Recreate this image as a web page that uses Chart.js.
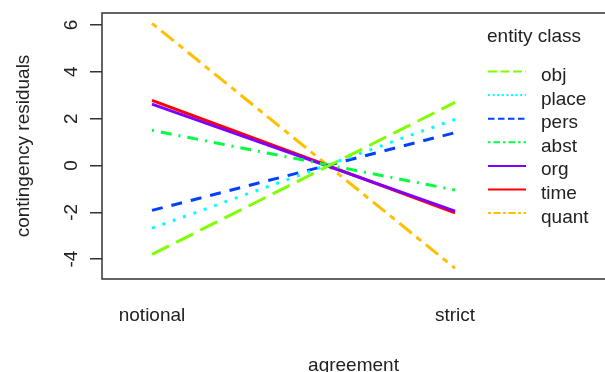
<!DOCTYPE html>
<html>
<head>
<meta charset="utf-8">
<script src="https://cdn.jsdelivr.net/npm/chart.js@4.4.0/dist/chart.umd.min.js"></script>
<style>
  html, body { margin: 0; padding: 0; background: #fff; }
  #wrap { width: 605px; height: 372px; position: relative; }
</style>
</head>
<body>
<div id="wrap"><canvas id="residChart"></canvas></div>
<script>
// values
const categories = ["notional", "strict"];
const classNames = ["obj", "place", "pers", "abst", "org", "time", "quant"];
const objVals = [-3.80, 2.69];
const placeVals = [-2.68, 1.97];
const persVals = [-1.92, 1.40];
const abstVals = [1.50, -1.05];
const orgVals = [2.62, -1.95];
const timeVals = [2.78, -2.02];
const quantVals = [6.07, -4.39];
const yTickValues = [-4, -2, 0, 2, 4, 6];

const seriesVals = [objVals, placeVals, persVals, abstVals, orgVals, timeVals, quantVals];

// rainbow(8)-ish colours and R line types
const lineStyle = {
  obj:   { color: "#80FF00", dash: [19, 8],        legendDash: [9, 3.5] },
  place: { color: "#00FFFF", dash: [3, 8],         legendDash: [2, 2.6] },
  pers:  { color: "#0040FF", dash: [11, 9],        legendDash: [6.5, 3.5] },
  abst:  { color: "#00FF40", dash: [2, 7, 11, 7],  legendDash: [2.5, 3, 6.5, 3] },
  org:   { color: "#8000FF", dash: [],             legendDash: [] },
  time:  { color: "#FF0000", dash: [],             legendDash: [] },
  quant: { color: "#FFBF00", dash: [6, 6, 16, 6],  legendDash: [3, 2.5, 7, 2.5] }
};

const FONT = "'Liberation Sans', Arial, sans-serif";
const TEXT = "#222";

const datasets = classNames.map((name, i) => ({
  label: name,
  data: categories.map((c, j) => ({ x: j + 1, y: seriesVals[i][j] })),
  borderColor: lineStyle[name].color,
  borderDash: lineStyle[name].dash,
  borderWidth: 3,
  pointRadius: 0,
  tension: 0,
  fill: false
}));

const extras = {
  id: "extras",
  afterDraw(chart) {
    const { ctx, chartArea: a, scales } = chart;
    ctx.save();
    // box (right side runs off the canvas)
    ctx.strokeStyle = "#333";
    ctx.lineWidth = 1.5;
    ctx.setLineDash([]);
    ctx.beginPath();
    ctx.moveTo(chart.width + 3, a.top);
    ctx.lineTo(a.left, a.top);
    ctx.lineTo(a.left, a.bottom);
    ctx.lineTo(chart.width + 3, a.bottom);
    ctx.stroke();

    // rotated y tick labels
    ctx.fillStyle = TEXT;
    ctx.font = "19px " + FONT;
    ctx.textAlign = "center";
    ctx.textBaseline = "alphabetic";
    yTickValues.forEach(v => {
      const y = scales.y.getPixelForValue(v);
      ctx.save();
      ctx.translate(77, y);
      ctx.rotate(-Math.PI / 2);
      ctx.fillText(String(v), 0, 0);
      ctx.restore();
    });

    // legend
    ctx.textAlign = "left";
    ctx.fillText("entity class", 487, 41.5);
    chart.data.datasets.forEach((ds, i) => {
      const base = 81 + i * 23.6;
      const st = lineStyle[ds.label];
      ctx.strokeStyle = st.color;
      ctx.lineWidth = 2;
      ctx.setLineDash(st.legendDash);
      ctx.beginPath();
      ctx.moveTo(488, base - 9.5);
      ctx.lineTo(526, base - 9.5);
      ctx.stroke();
      ctx.fillText(ds.label, 541, base);
    });
    ctx.restore();
  }
};

const ctx = document.getElementById("residChart").getContext("2d");
const residChart = new Chart(ctx, {
  type: "line",
  data: { datasets: datasets },
  plugins: [extras],
  options: {
    responsive: true,
    maintainAspectRatio: false,
    animation: false,
    layout: { padding: { top: 13, right: 0, bottom: 0, left: 0 } },
    plugins: {
      legend: { display: false },
      tooltip: { enabled: false }
    },
    scales: {
      x: {
        type: "linear",
        min: 0.835,
        max: 2.495,
        afterBuildTicks: s => { s.ticks = categories.map((c, j) => ({ value: j + 1 })); },
        afterFit: s => { s.height = 93; },
        grid: { display: false },
        border: { display: false },
        ticks: {
          autoSkip: false,
          maxRotation: 0,
          padding: 17,
          color: TEXT,
          font: { family: FONT, size: 19 },
          callback: v => categories[Math.round(v) - 1]
        },
        title: {
          display: true,
          text: "agreement",
          color: TEXT,
          font: { family: FONT, size: 19, lineHeight: 0.8 },
          padding: { top: 0, bottom: -1.5 }
        }
      },
      y: {
        min: -4.85,
        max: 6.51,
        afterBuildTicks: s => { s.ticks = yTickValues.map(v => ({ value: v })); },
        afterFit: s => { s.width = 102; },
        grid: { drawOnChartArea: false, drawTicks: true, tickLength: 12, color: "#333", lineWidth: 1.5 },
        border: { display: false },
        ticks: { display: false },
        title: {
          display: true,
          text: "contingency residuals",
          color: TEXT,
          font: { family: FONT, size: 19 },
          padding: { top: 12, bottom: 0 }
        }
      }
    }
  }
});
</script>
</body>
</html>
